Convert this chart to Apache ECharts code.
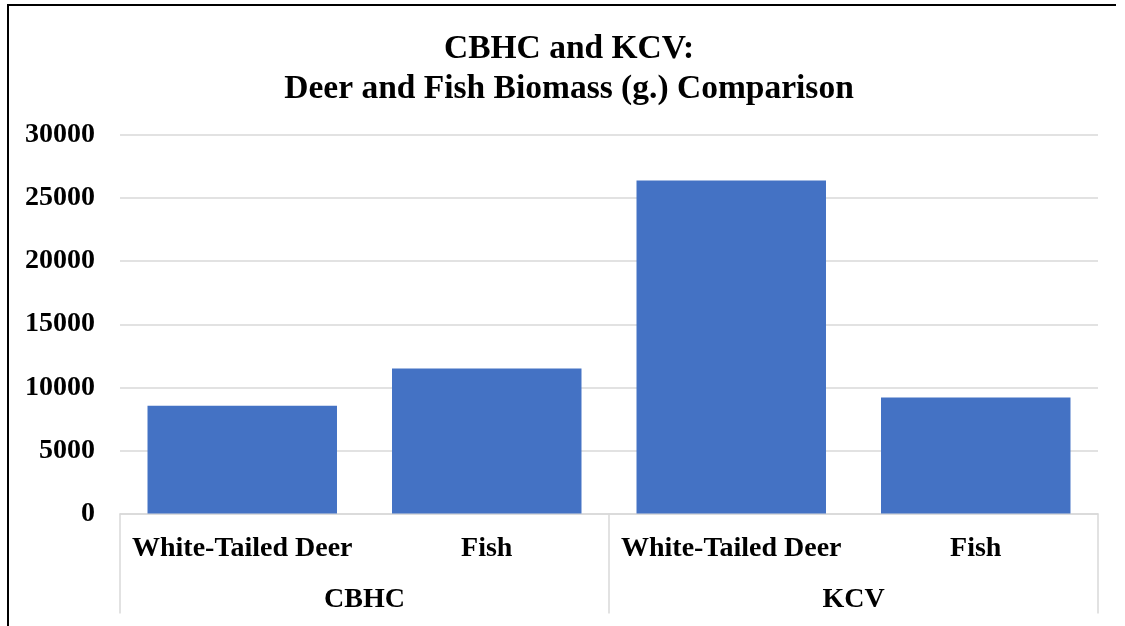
<!DOCTYPE html>
<html>
<head>
<meta charset="utf-8">
<script src="https://cdn.jsdelivr.net/npm/echarts@6/dist/echarts.min.js"></script>
<style>
html,body{margin:0;padding:0;background:#fff;}
#chart{width:1125px;height:626px;}
</style>
</head>
<body>
<div id="chart"></div>
<script>
const titleLines = ['CBHC and KCV:', 'Deer and Fish Biomass (g.) Comparison'];
const categories = ['White-Tailed Deer', 'Fish', 'White-Tailed Deer', 'Fish'];
const groups = ['CBHC', 'KCV'];
const biomass = [8550, 11500, 26400, 9200];
const yTicks = { min: 0, max: 30000, interval: 5000 };

const font = '"Liberation Serif", "Times New Roman", serif';
const chart = echarts.init(document.getElementById('chart'));
chart.setOption({
  animation: false,
  backgroundColor: '#fff',
  title: {
    text: titleLines.join('\n'),
    left: 564, top: 24, textAlign: 'center',
    textStyle: { fontFamily: font, fontWeight: 'bold', fontSize: 33.5, lineHeight: 40, color: '#000' }
  },
  graphic: [{
    type: 'polyline',
    shape: { points: [[8, 640], [8, 5], [1116, 5]] },
    style: { stroke: '#000', lineWidth: 2, fill: null }
  }],
  grid: { left: 120, right: 27, top: 135, bottom: 112.5 },
  xAxis: [{
    type: 'category',
    data: categories,
    position: 'bottom',
    axisLine: { show: true, lineStyle: { color: '#d9d9d9', width: 1.5 } },
    axisTick: { show: false },
    axisLabel: { fontFamily: font, fontWeight: 'bold', fontSize: 28, color: '#000', margin: 21, interval: 0 }
  }, {
    type: 'category',
    data: groups,
    position: 'bottom',
    axisLine: { show: false },
    axisTick: { show: true, length: 100, lineStyle: { color: '#d9d9d9', width: 1.5 } },
    axisLabel: { fontFamily: font, fontWeight: 'bold', fontSize: 28, color: '#000', margin: 72 }
  }],
  yAxis: {
    type: 'value',
    min: yTicks.min, max: yTicks.max, interval: yTicks.interval,
    axisLine: { show: false },
    axisTick: { show: false },
    splitLine: { lineStyle: { color: '#d9d9d9', width: 1.5 } },
    axisLabel: { fontFamily: font, fontWeight: 'bold', fontSize: 28, color: '#000', margin: 25,
      formatter: v => String(v) }
  },
  series: [{
    type: 'bar',
    xAxisIndex: 0,
    data: biomass,
    barCategoryGap: '22.5%',
    itemStyle: { color: '#4472C4' }
  }]
});
</script>
</body>
</html>
